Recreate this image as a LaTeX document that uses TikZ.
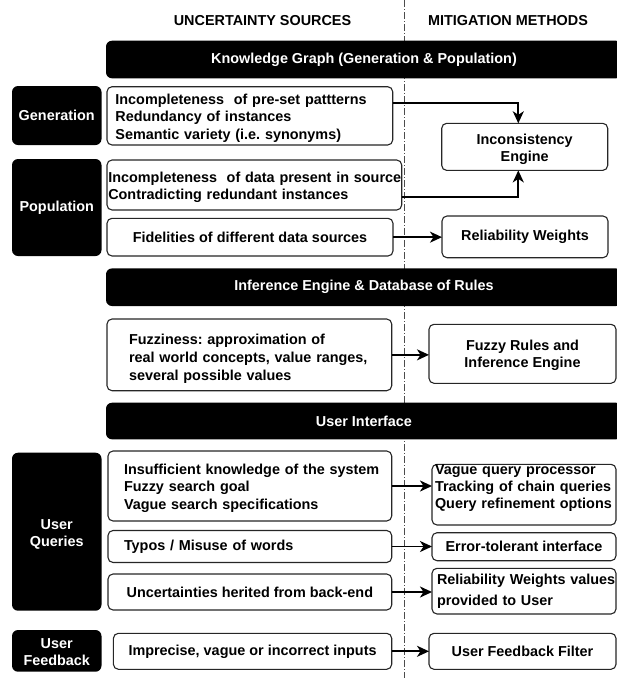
\documentclass[tikz,border=0pt]{standalone}
\usepackage{fontspec}
\setmainfont{Liberation Sans}
\usetikzlibrary{arrows.meta,calc}
% raised first line for multi-line labels
\newcommand{\toprule}[1]{\rule{0pt}{#1}}
\begin{document}
\frenchspacing
\begin{tikzpicture}[x=1pt,y=-1pt,
  every node/.style={font=\fontsize{14.4}{17.3}\selectfont\bfseries\frenchspacing,
    inner sep=0pt, outer sep=0pt},
  head/.style={text=black},
  bar/.style={fill=black, text=white, rounded corners=6pt,
    minimum width=516pt, minimum height=37.6pt},
  grp/.style={fill=black, text=white, rounded corners=6pt,
    minimum width=89.5pt, align=center},
  src/.style={draw=black!85, line width=1.1pt, fill=white, rounded corners=5pt},
  flow/.style={line width=1.8pt, -{Stealth[length=12pt,width=11pt,inset=3.5pt]}},
  divider/.style={draw=black!70, line width=0.9pt, dash pattern=on 7pt off 2pt on 1pt off 2pt}
]
\path[use as bounding box] (0,0) rectangle (617,678);
\clip (0,0) rectangle (617,678);

% column divider
\coordinate (divtop) at (404,0);
\coordinate (divbot) at (404,678);
\draw[divider] (divtop) -- (divbot);

% column headings
\node[head] (hsrc) at (262.5,21) {UNCERTAINTY SOURCES};
\node[head] (hmit) at (508,21) {MITIGATION METHODS};

% section bars
\node[bar] (kg) at (364,59.5) {Knowledge Graph (Generation \& Population)};
\node[bar] (inf) at (364,287.2) {Inference Engine \& Database of Rules};
\node[bar, minimum height=36.6pt] (ui) at (364,421) {User Interface};

% row groups
\node[grp, minimum height=59pt] (ggen) at (56.75,115.5) {Generation};
\node[grp, minimum height=97pt] (gpop) at (56.75,207.5) {Population};
\node[grp, minimum height=158pt] (guq) at (56.75,531.7) {\toprule{15pt}User\\Queries};
\node[grp, minimum height=41.7pt] (guf) at (56.75,650.85) {\toprule{13pt}User\\Feedback};

% uncertainty sources
\node[src, minimum width=285.7pt, minimum height=58.3pt, text width=268.9pt, align=left]
  (sgen) at (249.85,115.85)
  {\mbox{\toprule{15pt}Incompleteness\ \ of pre-set pattterns}\\\mbox{Redundancy of instances}\\\mbox{Semantic variety (i.e. synonyms)}};
\node[src, minimum width=294.7pt, minimum height=50pt, text width=292.1pt, align=left]
  (spop) at (254.35,185)
  {\mbox{\toprule{15pt}Incompleteness\ \ of data present in source}\\\mbox{Contradicting redundant instances}};
\node[src, minimum width=286pt, minimum height=37.7pt] (sfid) at (250,237.15)
  {Fidelities of different data sources};
\node[src, minimum width=284.7pt, minimum height=71.7pt, text width=240.7pt, align=left,
  font=\fontsize{14.4}{18}\selectfont\bfseries\frenchspacing]
  (sfuz) at (249.35,354.85)
  {\mbox{\toprule{19pt}Fuzziness: approximation of}\\\mbox{real world concepts, value ranges,}\\\mbox{several possible values}};
\node[src, minimum width=283.7pt, minimum height=70pt, text width=251.7pt, align=left]
  (sins) at (249.85,486)
  {\mbox{\toprule{15pt}Insufficient knowledge of the system}\\\mbox{Fuzzy search goal}\\\mbox{Vague search specifications}};
\node[src, minimum width=283.7pt, minimum height=32pt, text width=251.7pt, align=left]
  (styp) at (249.85,546.5) {\mbox{Typos / Misuse of words}};
\node[src, minimum width=283.7pt, minimum height=36pt] (sunc) at (249.85,592)
  {Uncertainties herited from back-end};
\node[src, minimum width=278.3pt, minimum height=36pt] (simp) at (252.55,651.3)
  {Imprecise, vague or incorrect inputs};

% mitigation methods
\node[src, minimum width=166pt, minimum height=47.1pt, align=center] (mincons) at (524.7,146.85)
  {\toprule{15pt}Inconsistency\\Engine};
\node[src, minimum width=166pt, minimum height=41.7pt] (mrelw) at (525,236.85)
  {Reliability Weights};
\node[src, minimum width=187pt, minimum height=59pt, align=center] (mfuz) at (522.5,353.8)
  {\toprule{13pt}Fuzzy Rules and\\Inference Engine};
\node[src, minimum width=184pt, minimum height=60.7pt, text width=178pt, align=left]
  (mvag) at (524,494.65)
  {\mbox{Vague query processor}\\\mbox{Tracking of chain queries}\\\mbox{Query refinement options}\rule[-16pt]{0pt}{0pt}};
\node[src, minimum width=184pt, minimum height=28pt] (merr) at (524,546.7)
  {Error-tolerant interface};
\node[src, minimum width=184pt, minimum height=45.7pt, text width=174pt, align=left]
  (mrelv) at (524,591.15)
  {\mbox{Reliability Weights values}\\[4.4pt]\mbox{provided to User}};
\node[src, minimum width=187pt, minimum height=36pt] (muff) at (522.5,651.3)
  {User Feedback Filter};

% connectors
\draw[flow] ($(sgen.north east)!0.275!(sgen.south east)$) -| ([xshift=-6.4pt]mincons.north);
\draw[flow] ($(spop.north east)!0.734!(spop.south east)$) -| ([xshift=-6.4pt]mincons.south);
\draw[flow] (sfid.east) -- (sfid.east -| mrelw.west);
\draw[flow] (sfuz.east) -- (sfuz.east -| mfuz.west);
\draw[flow] (sins.east) -- (sins.east -| mvag.west);
\draw[flow] (styp.east) -- (styp.east -| merr.west);
\draw[flow] (sunc.east) -- (sunc.east -| mrelv.west);
\draw[flow] (simp.east) -- (simp.east -| muff.west);
\end{tikzpicture}
\end{document}
